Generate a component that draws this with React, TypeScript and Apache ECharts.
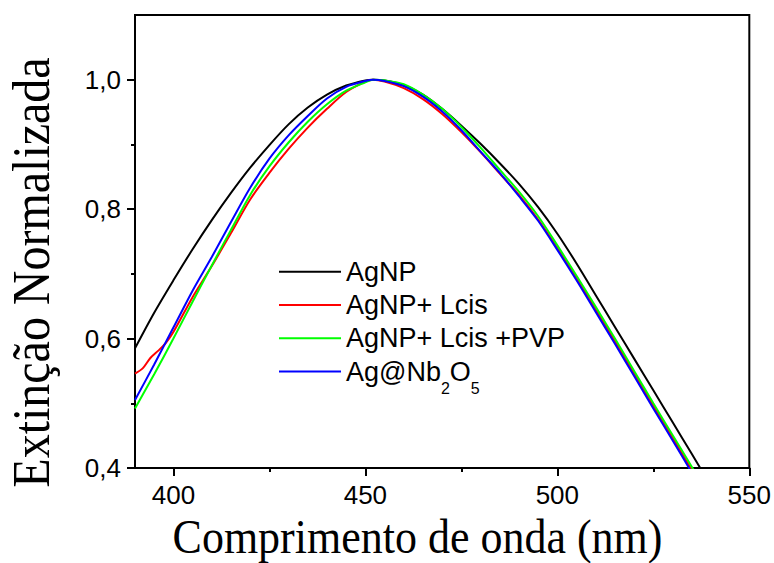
import React, { useEffect, useRef } from 'react';
import * as echarts from 'echarts';

const wavelengths = [390, 395, 400, 405, 410, 415, 420, 425, 430, 435, 440, 445, 450, 452, 455, 460, 465, 470, 475, 480, 485, 490, 495, 500, 505, 510, 515, 520, 525, 530, 535, 540];
const agnp = [0.585, 0.640, 0.690, 0.738, 0.783, 0.825, 0.864, 0.899, 0.931, 0.957, 0.977, 0.991, 0.999, 1.0, 0.999, 0.992, 0.977, 0.955, 0.929, 0.901, 0.871, 0.839, 0.803, 0.762, 0.716, 0.667, 0.618, 0.569, 0.520, 0.471, 0.422, 0.372];
const redWavelengths = [390, 392, 394, 396, 398, 400, 405, 410, 415, 420, 425, 430, 435, 440, 445, 450, 452, 455, 460, 465, 470, 475, 480, 485, 490, 495, 500, 505, 510, 515, 520, 525, 530, 535, 540];
const agnpLcis = [0.546, 0.554, 0.570, 0.581, 0.593, 0.610, 0.664, 0.712, 0.763, 0.815, 0.856, 0.893, 0.926, 0.955, 0.981, 0.997, 1.0, 0.997, 0.987, 0.970, 0.947, 0.919, 0.888, 0.855, 0.822, 0.784, 0.740, 0.693, 0.645, 0.596, 0.546, 0.496, 0.447, 0.397, 0.348];
const agnpLcisPvp = [0.492, 0.545, 0.600, 0.657, 0.713, 0.768, 0.822, 0.866, 0.903, 0.935, 0.962, 0.983, 0.996, 1.0, 0.999, 0.993, 0.977, 0.955, 0.927, 0.895, 0.861, 0.827, 0.789, 0.744, 0.697, 0.649, 0.600, 0.550, 0.500, 0.451, 0.402, 0.353];
const agNb2o5 = [0.505, 0.560, 0.617, 0.674, 0.726, 0.780, 0.833, 0.878, 0.914, 0.944, 0.971, 0.989, 0.998, 1.0, 0.998, 0.990, 0.974, 0.951, 0.922, 0.889, 0.856, 0.820, 0.782, 0.737, 0.690, 0.641, 0.592, 0.542, 0.492, 0.443, 0.393, 0.344];

const seriesNames = ['AgNP', 'AgNP+ Lcis', 'AgNP+ Lcis +PVP', 'Ag@Nb2O5'];
const seriesColors = ['#000000', '#ff0000', '#00ff00', '#0000ff'];

const xMajorTicks = [400, 450, 500, 550];
const xMinorTicks = [425, 475, 525];
const yMajorTicks = [0.4, 0.6, 0.8, 1.0];
const yMinorTicks = [0.5, 0.7, 0.9];

const xTitle = 'Comprimento de onda (nm)';
const yTitle = 'Extinção Normalizada';

function pairs(xs: number[], ys: number[]) {
  return xs.map((x, i) => [x, ys[i]]);
}

export default function App() {
  const ref = useRef<HTMLDivElement>(null);
  useEffect(() => {
    if (!ref.current) return;
    const chart = echarts.init(ref.current, null, { renderer: 'svg' });
    const sans = 'Liberation Sans';
    const serif = 'Liberation Serif';
    const axisLineStyle = { color: '#000', width: 2 };
    const dataSets = [
      pairs(wavelengths, agnp),
      pairs(redWavelengths, agnpLcis),
      pairs(wavelengths, agnpLcisPvp),
      pairs(wavelengths, agNb2o5),
    ];
    chart.setOption({
      animation: false,
      backgroundColor: '#fff',
      grid: {
        left: 135, right: 24, top: 15, bottom: 95,
        show: true, borderColor: '#000', borderWidth: 2, backgroundColor: 'transparent',
      },
      xAxis: [
        {
          type: 'value', min: 390, max: 550, position: 'bottom',
          axisLine: { show: true, lineStyle: axisLineStyle },
          axisTick: { show: true, customValues: xMajorTicks, length: 8, lineStyle: axisLineStyle },
          axisLabel: { customValues: xMajorTicks, fontFamily: sans, fontSize: 26, color: '#000', margin: 14 },
          splitLine: { show: false },
        },
        {
          type: 'value', min: 390, max: 550, position: 'bottom',
          axisLine: { show: false },
          axisTick: { show: true, customValues: xMinorTicks, length: 4, lineStyle: axisLineStyle },
          axisLabel: { show: false },
          splitLine: { show: false },
        },
      ],
      yAxis: [
        {
          type: 'value', min: 0.4, max: 1.1, position: 'left',
          axisLine: { show: true, lineStyle: axisLineStyle },
          axisTick: { show: true, customValues: yMajorTicks, length: 8, lineStyle: axisLineStyle },
          axisLabel: {
            customValues: yMajorTicks, fontFamily: sans, fontSize: 26, color: '#000', margin: 14,
            formatter: (v: number) => v.toFixed(1).replace('.', ','),
          },
          splitLine: { show: false },
        },
        {
          type: 'value', min: 0.4, max: 1.1, position: 'left',
          axisLine: { show: false },
          axisTick: { show: true, customValues: yMinorTicks, length: 4, lineStyle: axisLineStyle },
          axisLabel: { show: false },
          splitLine: { show: false },
        },
      ],
      legend: {
        orient: 'vertical', left: 279, top: 246.7, padding: 0,
        itemGap: -16.7, itemWidth: 62, itemHeight: 2,
        icon: 'rect',
        data: seriesNames.map((name, i) => ({ name, icon: 'rect', itemStyle: { color: seriesColors[i] } })),
        formatter: (name: string) => (name === 'Ag@Nb2O5' ? 'Ag@Nb{sub|2}O{sub|5}' : name),
        textStyle: {
          fontFamily: sans, fontSize: 27, color: '#000', lineHeight: 50,
          rich: {
            sub: { fontFamily: sans, fontSize: 16, color: '#000', lineHeight: 50, verticalAlign: 'bottom' },
          },
        },
      },
      series: seriesNames.map((name, i) => ({
        name,
        type: 'line',
        xAxisIndex: 0,
        yAxisIndex: 0,
        data: dataSets[i],
        showSymbol: false,
        symbol: 'none',
        smooth: 0.3,
        clip: true,
        lineStyle: { color: seriesColors[i], width: 2 },
        itemStyle: { color: seriesColors[i] },
      })),
      graphic: [
        {
          type: 'text', x: 31, y: 272.5, rotation: Math.PI / 2, scaleY: 1.1,
          style: {
            text: yTitle, fontFamily: serif, fontSize: 48, fill: '#000',
            align: 'center', verticalAlign: 'middle', textAlign: 'center', textVerticalAlign: 'middle',
          },
        },
        {
          type: 'text', x: 417.5, y: 536, scaleY: 1.12,
          style: {
            text: xTitle, fontFamily: serif, fontSize: 44, fill: '#000',
            align: 'center', verticalAlign: 'middle', textAlign: 'center', textVerticalAlign: 'middle',
          },
        },
      ],
    });
    return () => chart.dispose();
  }, []);
  return (
    <div
      ref={ref}
      style={{ position: 'fixed', left: 0, top: 0, width: 774, height: 563, background: '#fff' }}
    />
  );
}
